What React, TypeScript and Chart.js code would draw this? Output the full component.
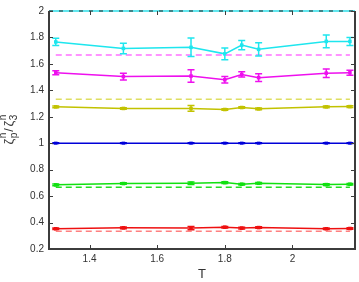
import React, { useEffect, useRef } from "react";
import { Chart, registerables } from "chart.js";

Chart.register(...registerables);

const T = [1.3, 1.5, 1.7, 1.8, 1.85, 1.9, 2.1, 2.17];
const cyanVals = [1.766, 1.717, 1.725, 1.676, 1.742, 1.71, 1.77, 1.77];
const cyanErr = [0.027, 0.04, 0.07, 0.045, 0.035, 0.05, 0.048, 0.03];
const magentaVals = [1.533, 1.504, 1.508, 1.48, 1.52, 1.496, 1.53, 1.533];
const magentaErr = [0.015, 0.025, 0.047, 0.025, 0.02, 0.03, 0.032, 0.018];
const oliveVals = [1.275, 1.263, 1.263, 1.255, 1.27, 1.26, 1.275, 1.277];
const oliveErr = [0.007, 0.006, 0.022, 0.006, 0.006, 0.006, 0.006, 0.006];
const blueVals = [1, 1, 1, 1, 1, 1, 1, 1];
const blueErr = [0.003, 0.003, 0.003, 0.003, 0.003, 0.003, 0.003, 0.003];
const greenVals = [0.685, 0.695, 0.697, 0.702, 0.69, 0.697, 0.687, 0.69];
const greenErr = [0.006, 0.006, 0.01, 0.006, 0.006, 0.006, 0.006, 0.006];
const redVals = [0.353, 0.36, 0.358, 0.365, 0.358, 0.362, 0.353, 0.355];
const redErr = [0.006, 0.006, 0.012, 0.006, 0.006, 0.006, 0.006, 0.006];
const refT = [1.3, 2.17];
const refFull = [1.28, 2.185];
const refLevels = [1 / 3, 2 / 3, 4 / 3, 5 / 3, 2];
const xTicks = [1.4, 1.6, 1.8, 2.0];
const yTicks = [0.2, 0.4, 0.6, 0.8, 1.0, 1.2, 1.4, 1.6, 1.8, 2.0];

const FONT = "'Liberation Sans', Arial, sans-serif";

export default function App() {
  const ref = useRef<HTMLCanvasElement | null>(null);
  useEffect(() => {
    document.body.style.margin = "0";
    const canvas = ref.current!;
    const series = [
      { v: cyanVals, e: cyanErr, c: "#1ee6ee", p: "#1ee6ee" },
      { v: magentaVals, e: magentaErr, c: "#ee10ee", p: "#ee10ee" },
      { v: oliveVals, e: oliveErr, c: "#c2c200", p: "#c2c200" },
      { v: blueVals, e: blueErr, c: "#0000d8", p: "#5a5aee" },
      { v: greenVals, e: greenErr, c: "#10e010", p: "#10e010" },
      { v: redVals, e: redErr, c: "#ee1010", p: "#ee1010" },
    ];
    const refColors = ["#ff8080", "#20e020", "#dede60", "#ff70ff", "#60e6ee"];
    const datasets: any[] = [];
    refLevels.forEach((lv, i) => {
      const xs = i === 4 ? refFull : refT;
      datasets.push({
        type: "line",
        data: xs.map((x) => ({ x, y: lv })),
        borderColor: refColors[i],
        borderWidth: i === 4 ? 2 : 1.5,
        borderDash: i === 4 ? [] : [6, 4],
        pointRadius: 0,
        clip: i === 4 ? false : undefined,
        errs: null,
      });
    });
    series.forEach((s) => {
      datasets.push({
        type: "line",
        data: T.map((x, i) => ({ x, y: s.v[i] })),
        borderColor: s.c,
        backgroundColor: s.p,
        borderWidth: 1.5,
        pointStyle: "rect",
        pointRadius: 2.5,
        pointBorderWidth: 0,
        pointBackgroundColor: s.p,
        errs: s.e,
        errColor: s.c,
      });
    });

    const axisColor = "#3c3c3c";
    const plugin = {
      id: "extras",
      afterDatasetsDraw(chart: any) {
        const ctx = chart.ctx;
        const xs = chart.scales.x;
        const ys = chart.scales.y;
        const ca = chart.chartArea;
        ctx.save();
        // error bars
        chart.data.datasets.forEach((ds: any) => {
          if (!ds.errs) return;
          ctx.strokeStyle = ds.errColor;
          ctx.lineWidth = 1.5;
          ds.data.forEach((pt: any, i: number) => {
            const px = xs.getPixelForValue(pt.x);
            const y1 = ys.getPixelForValue(pt.y + ds.errs[i]);
            const y2 = ys.getPixelForValue(pt.y - ds.errs[i]);
            ctx.beginPath();
            ctx.moveTo(px, y1);
            ctx.lineTo(px, y2);
            ctx.moveTo(px - 3.5, y1);
            ctx.lineTo(px + 3.5, y1);
            ctx.moveTo(px - 3.5, y2);
            ctx.lineTo(px + 3.5, y2);
            ctx.stroke();
          });
        });
        // top black dashes over the cyan reference line
        const yTop = ys.getPixelForValue(2);
        ctx.strokeStyle = "#222";
        ctx.lineWidth = 1.2;
        ctx.setLineDash([4, 6]);
        ctx.beginPath();
        ctx.moveTo(ca.left, yTop);
        ctx.lineTo(ca.right, yTop);
        ctx.stroke();
        ctx.setLineDash([]);
        // frame
        ctx.strokeStyle = axisColor;
        ctx.lineWidth = 2;
        ctx.beginPath();
        ctx.moveTo(ca.left, ca.top);
        ctx.lineTo(ca.left, ca.bottom);
        ctx.lineTo(ca.right, ca.bottom);
        ctx.lineTo(ca.right, ca.top);
        ctx.stroke();
        // inward ticks
        ctx.lineWidth = 1;
        ctx.beginPath();
        xTicks.forEach((t) => {
          const px = Math.round(xs.getPixelForValue(t)) + 0.5;
          ctx.moveTo(px, ca.bottom);
          ctx.lineTo(px, ca.bottom - 4);
          ctx.moveTo(px, ca.top);
          ctx.lineTo(px, ca.top + 4);
        });
        yTicks.forEach((t) => {
          const py = Math.round(ys.getPixelForValue(t)) + 0.5;
          ctx.moveTo(ca.left, py);
          ctx.lineTo(ca.left + 4, py);
          ctx.moveTo(ca.right, py);
          ctx.lineTo(ca.right - 4, py);
        });
        ctx.stroke();
        // y label
        ctx.fillStyle = "#333";
        ctx.translate(13, 127.5);
        ctx.rotate(-Math.PI / 2);
        ctx.textBaseline = "alphabetic";
        const big = `13px ${FONT}`;
        const small = `10px ${FONT}`;
        let x = -17;
        const part = (zeta: string, sub: string) => {
          ctx.font = big;
          ctx.fillText(zeta, x, 0);
          x += ctx.measureText(zeta).width + 0.5;
          ctx.font = small;
          ctx.fillText("n", x, -7);
          ctx.fillText(sub, x, 4);
          x += Math.max(ctx.measureText("n").width, ctx.measureText(sub).width);
        };
        part("ζ", "p");
        ctx.font = big;
        ctx.fillText("/", x + 1, 0);
        x += ctx.measureText("/").width + 2.5;
        part("ζ", "3");
        ctx.restore();
      },
    };

    const chart = new Chart(canvas, {
      type: "line",
      data: { datasets },
      options: {
        animation: false,
        responsive: false,
        events: [],
        layout: { padding: { top: 5, right: 2, left: 0, bottom: 0 } },
        plugins: { legend: { display: false }, tooltip: { enabled: false } },
        scales: {
          x: {
            type: "linear",
            min: 1.28,
            max: 2.185,
            afterBuildTicks: (s: any) => {
              s.ticks = xTicks.map((v) => ({ value: v }));
            },
            afterFit: (s: any) => {
              s.height = 33;
            },
            grid: { display: false, drawTicks: false },
            border: { display: false },
            ticks: {
              padding: 4,
              color: "#333",
              font: { size: 10, family: FONT },
              callback: (v: any) => String(Math.round(Number(v) * 10) / 10),
            },
            title: {
              display: true,
              text: "T",
              color: "#333",
              font: { size: 13, family: FONT },
              padding: { top: 0, bottom: 0 },
            },
          },
          y: {
            type: "linear",
            min: 0.2,
            max: 2,
            afterBuildTicks: (s: any) => {
              s.ticks = yTicks.map((v) => ({ value: v }));
            },
            afterFit: (s: any) => {
              s.width = 49;
            },
            grid: { display: false, drawTicks: false },
            border: { display: false },
            ticks: {
              padding: 5,
              color: "#333",
              font: { size: 10, family: FONT },
              callback: (v: any) => String(Math.round(Number(v) * 10) / 10),
            },
          },
        },
      },
      plugins: [plugin],
    } as any);
    return () => chart.destroy();
  }, []);
  return (
    <div style={{ position: "fixed", left: 0, top: 0, width: 359, height: 282, background: "#fff" }}>
      <canvas ref={ref} width={359} height={282} style={{ width: 359, height: 282 }} />
    </div>
  );
}
